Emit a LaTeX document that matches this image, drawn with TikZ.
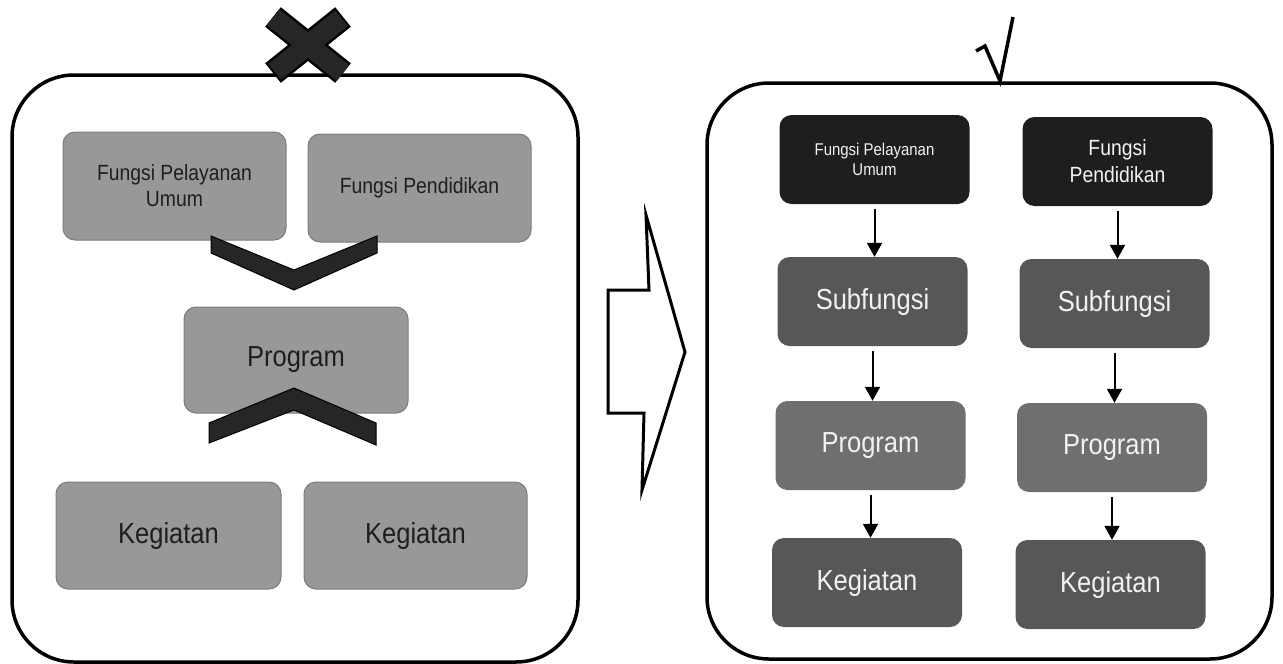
\documentclass[tikz,border=0pt]{standalone}
\usepackage{fontspec}
\setmainfont{Liberation Sans}[FakeStretch=0.88]
\usetikzlibrary{arrows.meta}

\definecolor{panelgray}{HTML}{979898}
\definecolor{paneledge}{HTML}{7C7D7D}
\definecolor{inktext}{HTML}{1E1E1E}
\definecolor{chevronfill}{HTML}{262626}
\definecolor{headfill}{HTML}{1E1E1E}
\definecolor{darkfill}{HTML}{575757}
\definecolor{midfill}{HTML}{6F6F6F}
\definecolor{lighttext}{HTML}{F2F2F2}

\newcommand{\fs}[2]{\fontsize{#1}{#2}\selectfont}

\tikzset{
  frame/.style={draw=black, line width=3.5pt, rounded corners=62pt},
  flatbox/.style={rectangle, rounded corners=12pt, inner sep=2pt, align=center},
  leftbox/.style={flatbox, fill=panelgray, draw=paneledge, line width=1pt, text=inktext},
  headbox/.style={flatbox, fill=headfill, text=lighttext, minimum width=190pt, minimum height=89pt},
  subbox/.style={flatbox, fill=darkfill, text=lighttext, minimum width=190pt, minimum height=89pt, font=\fs{29}{34}},
  progbox/.style={flatbox, fill=midfill, text=lighttext, minimum width=190pt, minimum height=89pt, font=\fs{29}{34}},
  flow/.style={draw=black, line width=2pt, -{Triangle[width=15pt,length=14pt]}, shorten <=5pt},
  chevron/.style={fill=chevronfill, draw=black, line width=1pt, line join=miter},
}

\begin{document}
\begin{tikzpicture}[x=1pt, y=-1pt]
  \useasboundingbox (0,0) rectangle (1283,664);

  % ---------- left panel ----------
  \draw[frame] (12,75) rectangle (578,662);

  \node[leftbox, minimum width=223pt, minimum height=108pt, font=\fs{22}{26}]
    (fpu) at (174.5,186) {Fungsi Pelayanan\\Umum};
  \node[leftbox, minimum width=223pt, minimum height=108pt, font=\fs{22}{26}]
    (fpd) at (419.5,188) {Fungsi Pendidikan};
  \node[leftbox, minimum width=224pt, minimum height=106pt, font=\fs{29}{34}]
    (prg) at (296,360) {Program};
  \node[leftbox, minimum width=225pt, minimum height=107pt, font=\fs{29}{34}]
    (kg1) at (168.5,535.5) {Kegiatan};
  \node[leftbox, minimum width=223pt, minimum height=107pt, font=\fs{29}{34}]
    (kg2) at (415.5,535.5) {Kegiatan};

  % merging chevron below the two functions
  \draw[chevron] (211,236) -- (294,270) -- (377,236) -- (377,253)
                 -- (294,290) -- (211,253) -- cycle;
  % splitting chevron below the program
  \draw[chevron] (209,423) -- (294,388) -- (376,423) -- (376,445)
                 -- (294,410) -- (209,443) -- cycle;

  % cross mark on the left frame
  \draw[black, line width=25pt] (273,17) -- (343,73) (343,17) -- (273,73);
  \draw[chevronfill, line width=20pt, shorten <=2pt, shorten >=2pt]
    (273,17) -- (343,73) (343,17) -- (273,73);

  % ---------- transition arrow ----------
  \draw[line width=3pt, line join=miter, fill=white]
    (608,290) -- (649,290) -- (646,215) -- (685,352) -- (642,490)
    -- (644,413) -- (608,413) -- cycle;

  % ---------- right panel ----------
  \draw[frame] (707,83) rectangle (1272,659);

  % tick mark on the right frame
  \draw[line width=3.5pt, line join=miter]
    (976,51) -- (985,46) -- (1000,81) -- (1013,17);

  \node[headbox, font=\fs{17}{20}] (h1) at (874.5,159.5) {Fungsi Pelayanan\\Umum};
  \node[headbox, font=\fs{22}{27}] (h2) at (1117.5,161.5) {Fungsi\\Pendidikan};

  \node[subbox] (s1) at (872.5,301.5) {Subfungsi};
  \node[subbox] (s2) at (1114.5,303.5) {Subfungsi};

  \node[progbox] (p1) at (870.5,445.5) {Program};
  \node[progbox] (p2) at (1112,447.5) {Program};

  \node[subbox] (k1) at (867,582.5) {Kegiatan};
  \node[subbox] (k2) at (1110.5,584.5) {Kegiatan};

  \draw[flow] (h1.south) -- (h1.south |- s1.north);
  \draw[flow] (s1.south) -- (s1.south |- p1.north);
  \draw[flow] (p1.south) -- (p1.south |- k1.north);
  \draw[flow] (h2.south) -- (h2.south |- s2.north);
  \draw[flow] (s2.south) -- (s2.south |- p2.north);
  \draw[flow] (p2.south) -- (p2.south |- k2.north);
\end{tikzpicture}
\end{document}
